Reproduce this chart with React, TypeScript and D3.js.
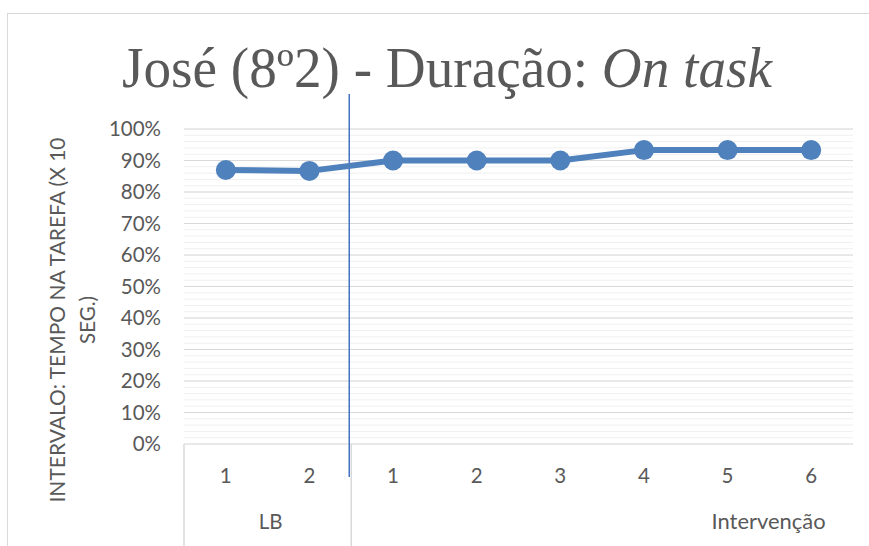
import React from "react";
import * as d3 from "d3";

const categories = ["1", "2", "1", "2", "3", "4", "5", "6"];
const groups = [
  { label: "LB", start: 0, count: 2 },
  { label: "Intervenção", start: 2, count: 6 },
];
const values = [0.87, 0.867, 0.9, 0.9, 0.9, 0.933, 0.933, 0.933];
const yTicks = [0, 0.1, 0.2, 0.3, 0.4, 0.5, 0.6, 0.7, 0.8, 0.9, 1.0];
const minorTicks = d3.range(0, 1.0001, 0.02);
const phaseBoundary = 2;

const W = 869;
const H = 546;
const plotL = 184;
const plotR = 853;
const plotT = 129;
const plotB = 444;
const textColor = "#595959";
const lineColor = "#4f81bd";
const fontUI = "Lato, 'Open Sans', sans-serif";
const fs = 20.5;

export default function App() {
  const x = d3
    .scaleBand<number>()
    .domain(d3.range(categories.length))
    .range([plotL, plotR])
    .padding(0);
  const y = d3.scaleLinear().domain([0, 1]).range([plotB, plotT]);
  const cx = (i: number) => (x(i) as number) + x.bandwidth() / 2;
  const line = d3
    .line<number>()
    .x((_, i) => cx(i))
    .y((d) => y(d));
  const boundaryX = (x(phaseBoundary) as number) - 2;
  const fmt = d3.format(".0%");

  return (
    <div style={{ position: "absolute", left: 0, top: 0 }}>
      <svg width={W} height={H} style={{ display: "block", background: "#fff" }}>
        <rect x={7.5} y={13.5} width={870} height={540} fill="#fff" stroke="#d9d9d9" />
        {/* title */}
        <text
          x={122}
          y={87}
          fontFamily="'Liberation Serif', 'DejaVu Serif', serif"
          fontSize={56}
          fill={textColor}
          textLength={650}
          lengthAdjust="spacingAndGlyphs"
        >
          José (8º2) - Duração: <tspan fontStyle="italic">On task</tspan>
        </text>
        {/* minor gridlines */}
        {minorTicks.map((t, i) => (
          <line key={"m" + i} x1={plotL} x2={plotR} y1={y(t)} y2={y(t)} stroke="#f0f0f0" strokeWidth={1} />
        ))}
        {/* major gridlines */}
        {yTicks.map((t, i) => (
          <line key={"g" + i} x1={plotL} x2={plotR} y1={y(t)} y2={y(t)} stroke="#d9d9d9" strokeWidth={1.2} />
        ))}
        {/* y tick labels */}
        {yTicks.map((t, i) => (
          <text
            key={"yt" + i}
            x={161}
            y={y(t)}
            dy="0.35em"
            textAnchor="end"
            fontFamily={fontUI}
            fontSize={fs}
            fill={textColor}
          >
            {fmt(t)}
          </text>
        ))}
        {/* y axis title */}
        <text
          transform={`translate(69, 320) rotate(-90)`}
          textAnchor="middle"
          fontFamily={fontUI}
          fontSize={fs}
          fill={textColor}
        >
          <tspan x={0} dy="-0.2em" textLength={365} lengthAdjust="spacingAndGlyphs">INTERVALO: TEMPO NA TAREFA (X 10</tspan>
          <tspan x={0} dy="1.45em">SEG.)</tspan>
        </text>
        {/* category axis separators */}
        {groups.map((g, i) => (
          <line
            key={"sep" + i}
            x1={x(g.start) as number}
            x2={x(g.start) as number}
            y1={plotB}
            y2={H}
            stroke="#d9d9d9"
            strokeWidth={1.5}
          />
        ))}
        {/* category labels */}
        {categories.map((c, i) => (
          <text
            key={"c" + i}
            x={cx(i)}
            y={476}
            dy="0.35em"
            textAnchor="middle"
            fontFamily={fontUI}
            fontSize={fs}
            fill={textColor}
          >
            {c}
          </text>
        ))}
        {/* group labels */}
        <text x={(x(0) as number) + x.bandwidth() + 3} y={522} dy="0.35em" textAnchor="middle" fontFamily={fontUI} fontSize={fs} fill={textColor}>
          {groups[0].label}
        </text>
        <text x={cx(6) + 41} y={522} dy="0.35em" textAnchor="middle" fontFamily={fontUI} fontSize={fs} fill={textColor} textLength={114} lengthAdjust="spacingAndGlyphs">
          {groups[1].label}
        </text>
        {/* phase line */}
        <line x1={boundaryX} x2={boundaryX} y1={94} y2={477} stroke="#4472c4" strokeWidth={1.5} />
        {/* data line */}
        <path d={line(values) as string} fill="none" stroke={lineColor} strokeWidth={6} strokeLinejoin="round" />
        {values.map((v, i) => (
          <circle key={"p" + i} cx={cx(i)} cy={y(v)} r={10} fill={lineColor} />
        ))}
      </svg>
    </div>
  );
}
